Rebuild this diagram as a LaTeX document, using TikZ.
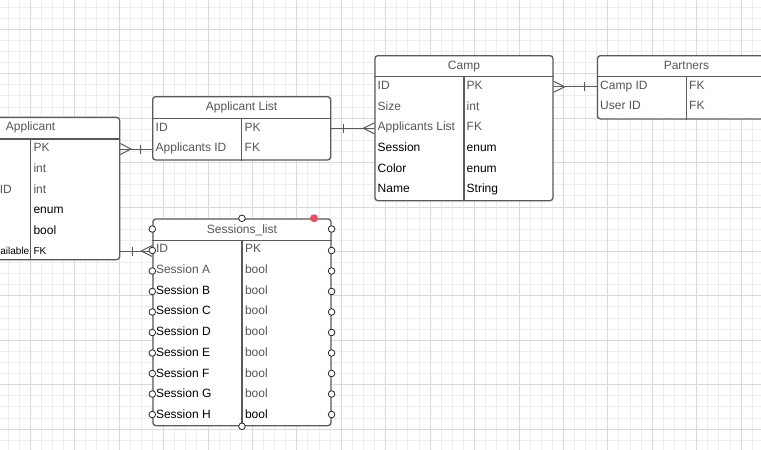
\documentclass[tikz,border=0pt]{standalone}
\usepackage{fontspec}
\setmainfont{Liberation Sans}
\definecolor{gridminor}{HTML}{EDEDED}
\definecolor{gridmajor}{HTML}{DADADA}
\definecolor{boxline}{HTML}{5A5A5A}
\definecolor{txtgrey}{HTML}{555555}
\definecolor{dotred}{HTML}{E8505E}
\tikzset{
  table/.style={draw=boxline, line width=1.3pt, rounded corners=3pt, fill=white, anchor=north west, minimum width=178pt, inner sep=0pt},
  tline/.style={draw=boxline, line width=1.3pt},
  title/.style={anchor=base, inner sep=0pt, text=txtgrey, font=\fontsize{12}{14}\selectfont},
  field/.style={anchor=base west, inner sep=0pt, text=txtgrey, font=\fontsize{12}{14}\selectfont},
  dark/.style={text=black},
  tiny/.style={font=\fontsize{10}{12}\selectfont},
  conn/.style={draw=boxline, line width=1pt},
  handle/.style={draw=black!85, fill=white, line width=0.8pt},
}
\begin{document}
\begin{tikzpicture}[x=1pt, y=-1pt]
\useasboundingbox (0,0) rectangle (761,450);
\clip (0,0) rectangle (761,450);
\fill[white] (0,0) rectangle (761,450);
% background grid
\draw[gridminor, line width=1pt, step=11.107pt, xshift=8.1pt, yshift=-7.1pt] (-20,470) grid (770,-20);
\draw[gridmajor, line width=1pt, step=44.43pt, xshift=30.3pt, yshift=-29.3pt] (-40,490) grid (790,-40);

% Applicant
\node[table, minimum height=142.3pt] (applicant) at (-59,116.7) {};
\draw[tline] ([yshift=-22.3pt]applicant.north west) -- ([yshift=-22.3pt]applicant.north east);
\draw[tline] ([yshift=-22.3pt]applicant.north) -- (applicant.south);
\node[title] (applicant_title) at ([yshift=-13.6pt]applicant.north) {Applicant};
\node[field] (applicant_id) at (-0.3,193.3) {ID};
\node[field, dark, tiny, anchor=base east] (applicant_avail) at (29.5,254.3) {Available};
\node[field] (applicant_t1) at (33.3,151.3) {PK};
\node[field] (applicant_t2) at (33.3,172.3) {int};
\node[field] (applicant_t3) at (33.3,193.3) {int};
\node[field, dark] (applicant_t4) at (33.3,213.6) {enum};
\node[field, dark] (applicant_t5) at (33.3,234.3) {bool};
\node[field, dark, tiny] (applicant_t6) at (33.3,254.3) {FK};

% Applicant List
\node[table, minimum height=63.3pt] (applist) at (152,96) {};
\draw[tline] ([yshift=-22.3pt]applist.north west) -- ([yshift=-22.3pt]applist.north east);
\draw[tline] ([yshift=-22.3pt]applist.north) -- (applist.south);
\node[title] (applist_title) at ([yshift=-14pt]applist.north) {Applicant List};
\node[field] (applist_f1) at (155.5,131) {ID};
\node[field] (applist_f2) at (155.5,151) {Applicants ID};
\node[field] (applist_t1) at (244.5,131) {PK};
\node[field] (applist_t2) at (244.5,151) {FK};

% Camp
\node[table, minimum height=145pt] (camp) at (374.3,55) {};
\draw[tline] ([yshift=-21.7pt]camp.north west) -- ([yshift=-21.7pt]camp.north east);
\draw[tline] ([yshift=-21.7pt]camp.north) -- (camp.south);
\node[title] (camp_title) at ([yshift=-14.3pt]camp.north) {Camp};
\node[field] (camp_f1) at (377.5,89.3) {ID};
\node[field] (camp_f2) at (377.5,110) {Size};
\node[field] (camp_f3) at (377.5,130.7) {Applicants List};
\node[field, dark] (camp_f4) at (377.5,151.4) {Session};
\node[field, dark] (camp_f5) at (377.5,172.1) {Color};
\node[field, dark] (camp_f6) at (377.5,192.8) {Name};
\node[field] (camp_t1) at (466.5,89.3) {PK};
\node[field] (camp_t2) at (466.5,110) {int};
\node[field] (camp_t3) at (466.5,130.7) {FK};
\node[field, dark] (camp_t4) at (466.5,151.4) {enum};
\node[field, dark] (camp_t5) at (466.5,172.1) {enum};
\node[field, dark] (camp_t6) at (466.5,192.8) {String};

% Partners
\node[table, minimum height=63.3pt] (partners) at (596.8,55) {};
\draw[tline] ([yshift=-21.7pt]partners.north west) -- ([yshift=-21.7pt]partners.north east);
\draw[tline] ([yshift=-21.7pt]partners.north) -- (partners.south);
\node[title] (partners_title) at ([yshift=-14.3pt]partners.north) {Partners};
\node[field] (partners_f1) at (600,89.3) {Camp ID};
\node[field] (partners_f2) at (600,109.5) {User ID};
\node[field] (partners_t1) at (689,89.3) {FK};
\node[field] (partners_t2) at (689,109.5) {FK};

% Sessions_list
\node[table, minimum height=206.7pt] (sessions) at (152.3,218.3) {};
\draw[tline] ([yshift=-22.4pt]sessions.north west) -- ([yshift=-22.4pt]sessions.north east);
\draw[tline] ([yshift=-22.4pt]sessions.north) -- (sessions.south);
\node[title] (sessions_title) at ([yshift=-15pt]sessions.north) {Sessions\_list};
\node[field] (sessions_f0) at (155.8,252.8) {ID};
\node[field] (sessions_f1) at (155.8,273.5) {Session A};
\node[field, dark] (sessions_f2) at (155.8,294.2) {Session B};
\node[field, dark] (sessions_f3) at (155.8,314.9) {Session C};
\node[field, dark] (sessions_f4) at (155.8,335.6) {Session D};
\node[field, dark] (sessions_f5) at (155.8,356.3) {Session E};
\node[field, dark] (sessions_f6) at (155.8,377) {Session F};
\node[field, dark] (sessions_f7) at (155.8,397.7) {Session G};
\node[field, dark] (sessions_f8) at (155.8,418.4) {Session H};
\node[field] (sessions_t0) at (244.8,252.8) {PK};
\node[field] (sessions_t1) at (244.8,273.5) {bool};
\node[field] (sessions_t2) at (244.8,294.2) {bool};
\node[field] (sessions_t3) at (244.8,314.9) {bool};
\node[field] (sessions_t4) at (244.8,335.6) {bool};
\node[field] (sessions_t5) at (244.8,356.3) {bool};
\node[field] (sessions_t6) at (244.8,377) {bool};
\node[field] (sessions_t7) at (244.8,397.7) {bool};
\node[field, dark] (sessions_t8) at (244.8,418.4) {bool};

% relations
\coordinate (r1) at (0,149);
\coordinate (r2) at (0,128.3);
\coordinate (r3) at (0,86.8);
\coordinate (r4) at (0,251);
\draw[conn] (applicant.east |- r1) -- (applist.west |- r1);
\draw[conn] (applicant.east |- r1) ++(0,-5.5) -- ++(10.7,5.5) -- ++(-10.7,5.5);
\draw[conn] (applist.west |- r1) ++(-12,-4.5) -- ++(0,9);
\draw[conn] (applist.east |- r2) -- (camp.west |- r2);
\draw[conn] (applist.east |- r2) ++(12,-4.5) -- ++(0,9);
\draw[conn] (camp.west |- r2) ++(0,-5.5) -- ++(-11,5.5) -- ++(11,5.5);
\draw[conn] (camp.east |- r3) -- (partners.west |- r3);
\draw[conn] (camp.east |- r3) ++(0,-5.5) -- ++(11,5.5) -- ++(-11,5.5);
\draw[conn] (partners.west |- r3) ++(-12,-4.5) -- ++(0,9);
\draw[conn] (applicant.east |- r4) -- (sessions.west |- r4);
\draw[conn] (applicant.east |- r4) ++(12,-4.5) -- ++(0,9);
\draw[conn] (sessions.west |- r4) ++(0,-5.5) -- ++(-11,5.5) -- ++(11,5.5);

% selection handles
\foreach \y in {229,250.5,271,291.5,312,332.5,353,373.5,394,414.5} {
  \draw[handle] (sessions.west |- 0,\y) circle (3.3pt);
  \draw[handle] (sessions.east |- 0,\y) circle (3.3pt);
}
\draw[handle] (sessions.north) circle (3.3pt);
\draw[handle] (sessions.south) circle (3.3pt);
\fill[dotred] (314,218.3) circle (4pt);
\end{tikzpicture}
\end{document}
